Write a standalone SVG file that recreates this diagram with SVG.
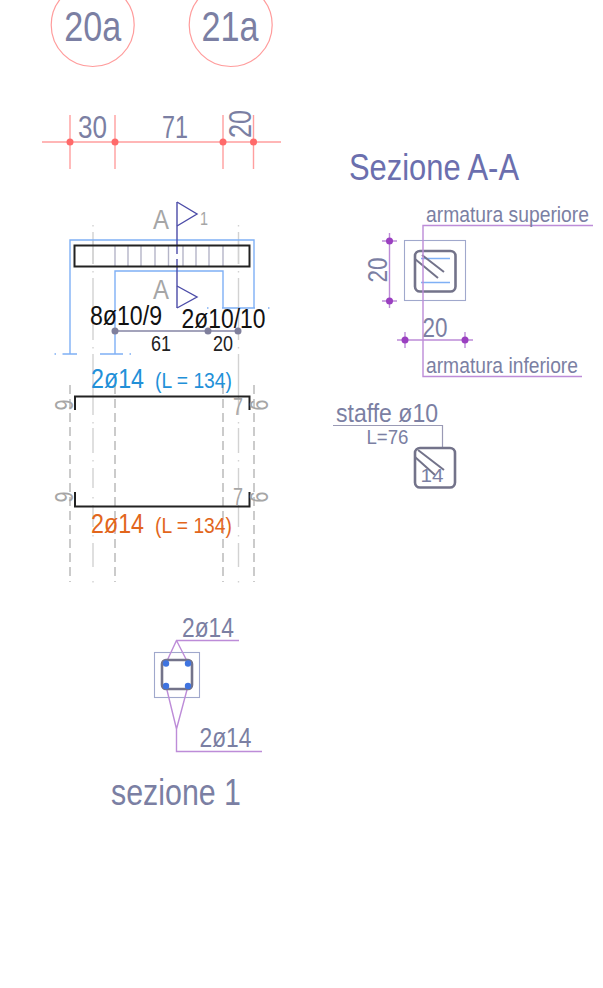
<svg xmlns="http://www.w3.org/2000/svg" width="603" height="988" viewBox="0 0 603 988">
<style>
text{font-family:"Liberation Sans",Arial,sans-serif;fill:#7b7fa3}
.c{fill:#fff;stroke:#ff9c9c;stroke-width:1.2}
.r{stroke:#ff9f9f;stroke-width:1.4;fill:none}
.rd{fill:#ff6a6a}
.g{fill:#7f7f9c}
.b{stroke:#7fb0f5;stroke-width:1.4;fill:none}
.k{stroke:#222;stroke-width:2;fill:none}
.dash{stroke:#b0b0b0;stroke-width:1.3;fill:none;stroke-dasharray:9 5}
.ax{stroke:#d2d2d2;stroke-width:1.4;fill:none}
.t{stroke:#b5b5c8;stroke-width:1.4}
.p{stroke:#bd8cd8;stroke-width:1.4;fill:none}
.pd{fill:#9a3fc0}
.st{stroke:#73738a;stroke-width:2.600;fill:none}
.sec{stroke:#a0a8cc;stroke-width:1.100;fill:none}
.nv{stroke:#4c4ca8;stroke-width:1.4;fill:none}
.gt{fill:#a6a6a6}
</style>
<g id="connectors">
<g id="axes"><path class="ax" id="ax-l" d="M93 225v1.500M93 232V264M93 271v1.500M93 278V340M93 347v1.500M93 354V415M93 422v1.500M93 428V453M93 460v1.500M93 468V488M93 497v1.500M93 505V527M93 535v1.500M93 543V567M93 581v1.500M238.500 225v1.500M238.500 232V264M238.500 271v1.500M238.500 278V340M238.500 347v1.500M238.500 354V415M238.500 422v1.500M238.500 428V453M238.500 460v1.500M238.500 468V488M238.500 497v1.500M238.500 505V527M238.500 535v1.500M238.500 543V567M238.500 581v1.500"/></g>
<g id="dash-lines"><path class="dash" d="M70 385V582M115 385V582M223 385V582M254 385V582"/></g>
<g id="blue-shape"><path class="b" d="M70 354V240H254V308M115 354V271H223V308"/>
<path class="b" d="M54.500 354h1.500M62.500 354H77M100 354H123M129.500 354h1.500M207 308h1.500M222 308H255M268 308h1.500"/></g>
<g id="section-line"><path class="nv" d="M177 202V254M177 259V308"/></g>
</g>
<g id="marker-20a"><circle class="c" cx="92.700" cy="25" r="41.500"/><text x="92.700" y="41" font-size="43" text-anchor="middle" textLength="57" lengthAdjust="spacingAndGlyphs">20a</text></g>
<g id="marker-21a"><circle class="c" cx="230.700" cy="25" r="41.500"/><text x="230" y="41" font-size="43" text-anchor="middle" textLength="57" lengthAdjust="spacingAndGlyphs">21a</text></g>
<g id="dim-top">
<path class="r" d="M42 142H281M70 115V169M115 115V169M223 115V169M253.500 115V169"/>
<circle class="rd" cx="70" cy="142" r="3.500"/><circle class="rd" cx="115" cy="142" r="3.500"/><circle class="rd" cx="223" cy="142" r="3.500"/><circle class="rd" cx="253.500" cy="142" r="3.500"/>
<text x="92.500" y="138" font-size="32" text-anchor="middle" textLength="29" lengthAdjust="spacingAndGlyphs">30</text>
<text x="175" y="138" font-size="32" text-anchor="middle" textLength="26" lengthAdjust="spacingAndGlyphs">71</text>
<text transform="translate(251 124) rotate(-90)" font-size="32" text-anchor="middle" textLength="28" lengthAdjust="spacingAndGlyphs">20</text>
</g>
<g id="title-a"><text x="349" y="180" font-size="36" style="fill:#6b6fae" textLength="170" lengthAdjust="spacingAndGlyphs">Sezione A-A</text></g>
<g id="beam">
<path class="t" d="M115 245V266M128 245V266M141 245V266M155 245V266M168.500 245V266M183 245V266M196 245V266M209 245V266M223 245V266"/>
<path class="ax" d="M93 241V264M238.500 241V264"/>
<rect class="k" x="74.500" y="245.500" width="175" height="21"/>
<rect x="172" y="254.500" width="10" height="4" fill="#fff"/>
<path class="nv" d="M177 202L197 214L177 226M177 286L197 297L177 308"/>
<text x="161" y="229" font-size="28" text-anchor="middle" class="gt" style="fill:#a6a6a6" textLength="16" lengthAdjust="spacingAndGlyphs">A</text>
<text x="204" y="225" font-size="19" text-anchor="middle" style="fill:#a6a6a6" textLength="8" lengthAdjust="spacingAndGlyphs">1</text>
<text x="161" y="299" font-size="28" text-anchor="middle" style="fill:#a6a6a6" textLength="16" lengthAdjust="spacingAndGlyphs">A</text>
</g>
<g id="stirrup-dims">
<path d="M115 331H238" stroke="#8585a5" stroke-width="1.400"/>
<circle class="g" cx="115" cy="331" r="3.500"/><circle class="g" cx="208" cy="331" r="3.500"/><circle class="g" cx="238" cy="331" r="3.500"/>
<text x="126" y="325" font-size="27" text-anchor="middle" style="fill:#111" textLength="72" lengthAdjust="spacingAndGlyphs">8ø10/9</text>
<text x="223.500" y="328" font-size="27" text-anchor="middle" style="fill:#111" textLength="84" lengthAdjust="spacingAndGlyphs">2ø10/10</text>
<text x="161" y="351" font-size="22" text-anchor="middle" style="fill:#222" textLength="20" lengthAdjust="spacingAndGlyphs">61</text>
<text x="223" y="351" font-size="22" text-anchor="middle" style="fill:#222" textLength="20" lengthAdjust="spacingAndGlyphs">20</text>
</g>
<g id="bar-top">
<text x="91" y="388" font-size="28" style="fill:#2290d8" textLength="53" lengthAdjust="spacingAndGlyphs">2ø14</text>
<text x="155" y="388" font-size="22" style="fill:#2290d8" textLength="77" lengthAdjust="spacingAndGlyphs">(L = 134)</text>
<path class="k" d="M75 410V396.500H249.500V410"/>
<text transform="translate(73 405) rotate(-90)" font-size="25" text-anchor="middle" style="fill:#a6a6a6" textLength="11" lengthAdjust="spacingAndGlyphs">9</text>
<text transform="translate(250 405) rotate(90)" font-size="25" text-anchor="middle" style="fill:#a6a6a6" textLength="11" lengthAdjust="spacingAndGlyphs">9</text>
<text x="238" y="415" font-size="24" text-anchor="middle" style="fill:#a6a6a6" textLength="10" lengthAdjust="spacingAndGlyphs">7</text>
</g>
<g id="bar-bottom">
<path class="k" d="M75 492V506.500H249.500V492"/>
<text transform="translate(73 497) rotate(-90)" font-size="25" text-anchor="middle" style="fill:#a6a6a6" textLength="11" lengthAdjust="spacingAndGlyphs">9</text>
<text transform="translate(250 497) rotate(90)" font-size="25" text-anchor="middle" style="fill:#a6a6a6" textLength="11" lengthAdjust="spacingAndGlyphs">9</text>
<text x="238" y="505" font-size="24" text-anchor="middle" style="fill:#a6a6a6" textLength="10" lengthAdjust="spacingAndGlyphs">7</text>
<text x="91" y="533" font-size="28" style="fill:#e2661c" textLength="53" lengthAdjust="spacingAndGlyphs">2ø14</text>
<text x="155" y="533" font-size="22" style="fill:#e2661c" textLength="77" lengthAdjust="spacingAndGlyphs">(L = 134)</text>
</g>
<g id="section-aa">
<rect class="sec" x="404.500" y="240.500" width="61" height="60"/>
<path d="M421 258.500H450M421 282.500H450" stroke="#7fb0f5" stroke-width="1.300"/>
<rect class="st" x="415" y="251" width="40.500" height="40.500" rx="5"/>
<path class="st" style="stroke-width:2" d="M415 259L438 278M422 255L444 272"/>
<path class="p" d="M593 225.500H423V376.500H582"/>
<path class="p" d="M389.500 233V308M382 241H397M382 301H397M397 340H473M405 332V348M465 332V348"/>
<circle class="pd" cx="389.500" cy="241" r="3.500"/><circle class="pd" cx="389.500" cy="301" r="3.500"/><circle class="pd" cx="405" cy="340" r="3.500"/><circle class="pd" cx="465" cy="340" r="3.500"/>
<text transform="translate(387 270) rotate(-90)" font-size="28" text-anchor="middle" textLength="25" lengthAdjust="spacingAndGlyphs">20</text>
<text x="435" y="337" font-size="28" text-anchor="middle" textLength="25" lengthAdjust="spacingAndGlyphs">20</text>
<text x="426" y="222" font-size="22" textLength="163" lengthAdjust="spacingAndGlyphs">armatura superiore</text>
<text x="426" y="373" font-size="22" textLength="152" lengthAdjust="spacingAndGlyphs">armatura inferiore</text>
</g>
<g id="staffe">
<path d="M333 425.500H442.500V447" stroke="#9a9ab5" stroke-width="1.200" fill="none"/>
<text x="336" y="422" font-size="26" textLength="102" lengthAdjust="spacingAndGlyphs">staffe ø10</text>
<text x="366.500" y="444" font-size="20" textLength="42" lengthAdjust="spacingAndGlyphs">L=76</text>
<rect class="st" x="415" y="448" width="40" height="39.500" rx="5"/>
<path class="st" style="stroke-width:2" d="M418 450L444 470M415 457L435 475"/>
<text x="432" y="482" font-size="19" text-anchor="middle" textLength="23" lengthAdjust="spacingAndGlyphs">14</text>
</g>
<g id="sezione-1">
<rect class="sec" x="154.500" y="652.500" width="45" height="45"/>
<path class="p" d="M239 640.500H176.500L166 663M176.500 640.500L188 663M166 686L176.500 729L188 686M176.500 729V751.500H262"/>
<rect class="st" x="162" y="660" width="30" height="29" rx="4"/>
<circle cx="166" cy="663.500" r="3.200" fill="#3f74e0"/><circle cx="188" cy="663.500" r="3.200" fill="#3f74e0"/><circle cx="166" cy="686" r="3.200" fill="#3f74e0"/><circle cx="188" cy="686" r="3.200" fill="#3f74e0"/>
<text x="182" y="637" font-size="27" textLength="52" lengthAdjust="spacingAndGlyphs">2ø14</text>
<text x="199.500" y="747" font-size="27" textLength="52" lengthAdjust="spacingAndGlyphs">2ø14</text>
<text x="111" y="805" font-size="36" textLength="130" lengthAdjust="spacingAndGlyphs">sezione 1</text>
</g>
</svg>
